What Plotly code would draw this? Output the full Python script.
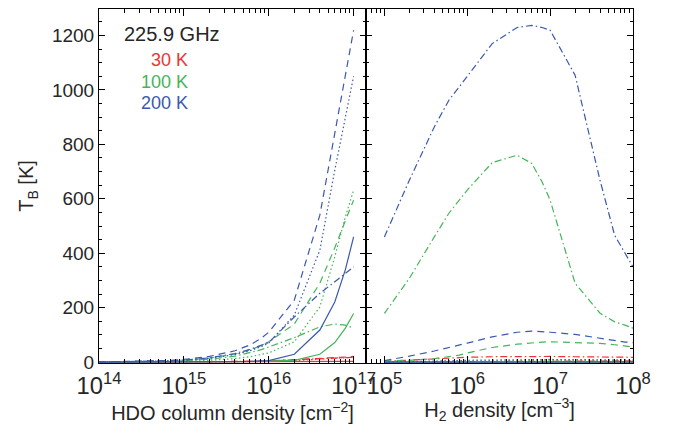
import plotly.graph_objects as go

# ---------------- data ----------------
# HDO column densities (left panel x) and H2 densities (right panel x)
N_col = [1e14, 2e14, 4e14, 6e14, 8e14, 1e15, 2e15, 4e15, 6e15, 8e15,
         1e16, 2e16, 4e16, 6e16, 8e16, 1e17]
n_h2 = [1e5, 2e5, 4e5, 6e5, 8e5, 1e6, 2e6, 4e6, 6e6, 8e6,
        1e7, 2e7, 4e7, 6e7, 8e7, 1e8]

temps = ["30 K", "100 K", "200 K"]
freq_label = "225.9 GHz"

# Left panel: T_B vs N(HDO) for n(H2) = 1e5 (solid), 1e6 (dotted), 1e7 (dashed), 1e8 (dash-dot)
left_200K_n5 = [0, 0, 0, 0, 0, 0.5, 1, 2, 3, 4.5, 6, 29, 118, 221, 340, 460]
left_200K_n6 = [0.7, 1.4, 2.8, 4.2, 5.6, 7, 14, 28, 42, 56, 70, 173, 411, 705, 907, 1050]
left_200K_n7 = [1, 2, 4, 6, 8, 10, 21, 42, 63, 86, 110, 228, 540, 834, 1054, 1219]
left_200K_n8 = [0.8, 1.6, 3.2, 4.8, 6.4, 8, 16, 32, 47, 60, 72, 166, 253, 295, 327, 350]

left_100K_n5 = [0, 0, 0, 0, 0, 0.2, 0.5, 1, 1.5, 2.5, 4, 7, 29, 72, 125, 179]
left_100K_n6 = [0.3, 0.6, 1.2, 1.8, 2.4, 3, 7, 13, 20, 27, 34, 75, 203, 387, 534, 632]
left_100K_n7 = [0.7, 1.4, 2.8, 4.2, 5.6, 7, 15, 30, 45, 60, 75, 140, 290, 420, 520, 595]
left_100K_n8 = [0.5, 1, 2, 3, 4, 5, 11, 22, 34, 45, 56, 90, 130, 140, 136, 125]

left_30K_n5 = [0, 0, 0, 0, 0, 0, 0.1, 0.2, 0.25, 0.3, 0.3, 0.8, 1.5, 2.2, 2.7, 3]
left_30K_n6 = [0, 0.1, 0.1, 0.2, 0.2, 0.3, 0.6, 1.2, 1.8, 2.4, 3, 6, 11, 14, 16, 18]
left_30K_n7 = [0, 0.1, 0.2, 0.2, 0.3, 0.4, 0.8, 1.6, 2.4, 3.2, 4, 8, 13, 17, 19, 21]
left_30K_n8 = [0, 0.1, 0.2, 0.3, 0.4, 0.5, 1, 2, 3, 4, 5, 9, 13, 15, 17, 18]

# Right panel: T_B vs n(H2) for N(HDO) = 1e14 (solid), 1e15 (dotted), 1e16 (dashed), 1e17 (dash-dot)
right_200K_N14 = [0, 0.2, 0.4, 0.5, 0.6, 0.7, 0.85, 0.95, 1, 1, 1, 0.95, 0.9, 0.85, 0.82, 0.8]
right_200K_N15 = [0.5, 1.5, 3, 4.5, 5.8, 7, 8.5, 9.5, 10, 10, 10, 9.5, 9, 8.5, 8.2, 8]
right_200K_N16 = [6, 22, 41, 53, 62, 70, 93, 110, 114, 113, 110, 102, 87, 79, 74, 72]
right_200K_N17 = [460, 668, 864, 962, 1011, 1050, 1170, 1229, 1237, 1229, 1219, 1054, 668, 466, 400, 350]

right_100K_N14 = [0, 0.1, 0.2, 0.25, 0.3, 0.3, 0.4, 0.5, 0.5, 0.5, 0.7, 0.6, 0.55, 0.5, 0.5, 0.5]
right_100K_N15 = [0.2, 0.6, 1.2, 1.8, 2.4, 3, 4.5, 6, 6.5, 7, 7, 6.5, 6, 5.5, 5.2, 5]
right_100K_N16 = [4, 7, 13, 20, 26, 34, 54, 66, 72, 74, 75, 73, 69, 64, 60, 56]
right_100K_N17 = [179, 308, 460, 547, 595, 632, 733, 760, 730, 662, 595, 290, 180, 148, 136, 125]

right_30K_N14 = [0, 0, 0, 0, 0, 0, 0, 0, 0, 0, 0, 0, 0, 0, 0, 0]
right_30K_N15 = [0, 0.1, 0.15, 0.2, 0.25, 0.3, 0.35, 0.4, 0.4, 0.4, 0.4, 0.45, 0.45, 0.5, 0.5, 0.5]
right_30K_N16 = [0.3, 0.8, 1.5, 2, 2.5, 3, 3.4, 3.7, 3.8, 3.9, 4, 4.3, 4.6, 4.8, 4.9, 5]
right_30K_N17 = [3, 8, 12, 15, 17, 18, 20, 21, 21, 21, 21, 20, 19, 19, 18, 18]

# ---------------- styles ----------------
RED, GREEN, BLUE = "#ec3434", "#46b45a", "#3a58b0"
DOT = "1.5px,2.5px"
DASH = "7px,5px"
DASHDOT = "7px,3px,1.5px,3px"
SOLID = "solid"
LW = 1.2
TXT = "#262626"

fig = go.Figure()

left_sets = [
    (RED, [left_30K_n5, left_30K_n6, left_30K_n7, left_30K_n8]),
    (GREEN, [left_100K_n5, left_100K_n6, left_100K_n7, left_100K_n8]),
    (BLUE, [left_200K_n5, left_200K_n6, left_200K_n7, left_200K_n8]),
]
right_sets = [
    (RED, [right_30K_N14, right_30K_N15, right_30K_N16, right_30K_N17]),
    (GREEN, [right_100K_N14, right_100K_N15, right_100K_N16, right_100K_N17]),
    (BLUE, [right_200K_N14, right_200K_N15, right_200K_N16, right_200K_N17]),
]
styles = [SOLID, DOT, DASH, DASHDOT]

for color, series in left_sets:
    for ys, dash in zip(series, styles):
        fig.add_trace(go.Scatter(x=N_col, y=ys, mode="lines", xaxis="x", yaxis="y",
                                 line=dict(color=color, width=LW, dash=dash),
                                 showlegend=False, hoverinfo="skip"))
for color, series in right_sets:
    for ys, dash in zip(series, styles):
        fig.add_trace(go.Scatter(x=n_h2, y=ys, mode="lines", xaxis="x2", yaxis="y2",
                                 line=dict(color=color, width=LW, dash=dash),
                                 showlegend=False, hoverinfo="skip"))

FONT = "Liberation Sans, Arial, sans-serif"
tickfont = dict(family=FONT, size=19, color=TXT)
titlefont = dict(family=FONT, size=20, color=TXT)

common_x = dict(type="log", dtick=1, exponentformat="power", showgrid=False, zeroline=False,
                showline=True, linecolor="black", linewidth=1, mirror="allticks",
                ticks="inside", ticklen=7, tickcolor="black", tickwidth=1,
                minor=dict(ticks="inside", ticklen=4, dtick="D1", tickcolor="black", tickwidth=1, showgrid=False),
                tickfont=tickfont, ticklabelstandoff=2)
common_y = dict(range=[-3, 1297], dtick=200, showgrid=False, zeroline=False,
                showline=True, linecolor="black", linewidth=1, mirror="allticks",
                ticks="inside", ticklen=6, tickcolor="black", tickwidth=1,
                minor=dict(ticks="inside", ticklen=3, dtick=50, tickcolor="black", tickwidth=1, showgrid=False),
                tickfont=tickfont)

# The page body adds an 8px offset, so the figure is 8px smaller and margins shifted accordingly.
fig.update_layout(
    width=665, height=416,
    margin=dict(l=91, r=40, t=1, b=61),
    paper_bgcolor="white", plot_bgcolor="white",
    font=dict(family=FONT, color=TXT),
    xaxis=dict(common_x, domain=[0, 0.5], range=[14, 17.146], anchor="y",
               title=dict(text="HDO column density [cm<sup>−2</sup>]", font=titlefont, standoff=0)),
    xaxis2=dict(common_x, domain=[0.5, 1], range=[4.778, 8], anchor="y2",
                title=dict(text="H<sub>2</sub> density [cm<sup>−3</sup>]", font=titlefont, standoff=0)),
    yaxis=dict(common_y, anchor="x",
               title=dict(text="T<sub>B</sub> [K]", font=titlefont, standoff=12)),
    yaxis2=dict(common_y, anchor="x2", showticklabels=False),
    annotations=[
        dict(text=freq_label, xref="paper", yref="paper", x=0.043, y=0.929, xanchor="left", yanchor="middle",
             showarrow=False, font=dict(family=FONT, size=20, color=TXT)),
        dict(text=temps[0], xref="paper", yref="paper", x=0.170, y=0.856, xanchor="right", yanchor="middle",
             showarrow=False, font=dict(family=FONT, size=18, color=RED)),
        dict(text=temps[1], xref="paper", yref="paper", x=0.170, y=0.794, xanchor="right", yanchor="middle",
             showarrow=False, font=dict(family=FONT, size=18, color=GREEN)),
        dict(text=temps[2], xref="paper", yref="paper", x=0.170, y=0.734, xanchor="right", yanchor="middle",
             showarrow=False, font=dict(family=FONT, size=18, color=BLUE)),
    ],
)

fig.write_html("out.html")
